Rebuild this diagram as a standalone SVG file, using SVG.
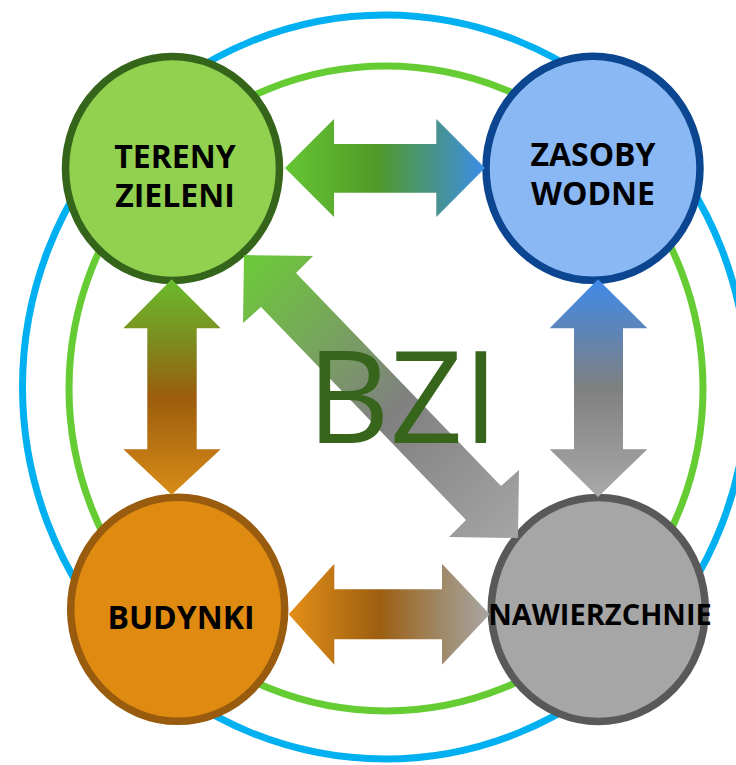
<svg xmlns="http://www.w3.org/2000/svg" width="736" height="765" viewBox="0 0 736 765">
<defs>
<style>
.lbl{font-family:"Open Sans","Liberation Sans",sans-serif;font-weight:bold;font-size:32px;fill:#000;text-anchor:middle}
.ring{fill:none;stroke-width:7}
.node{stroke-width:7.5}
</style>
<linearGradient id="gTop" gradientUnits="userSpaceOnUse" x1="285" y1="0" x2="485" y2="0">
<stop offset="0" stop-color="#66c634"/><stop offset="0.45" stop-color="#519a27"/><stop offset="0.75" stop-color="#47938c"/><stop offset="1" stop-color="#3b8eea"/>
</linearGradient>
<linearGradient id="gBot" gradientUnits="userSpaceOnUse" x1="289" y1="0" x2="490" y2="0">
<stop offset="0" stop-color="#e38f18"/><stop offset="0.45" stop-color="#9c5e10"/><stop offset="0.75" stop-color="#9f8866"/><stop offset="1" stop-color="#a9a6a3"/>
</linearGradient>
<linearGradient id="gLeft" gradientUnits="userSpaceOnUse" x1="0" y1="279" x2="0" y2="495">
<stop offset="0" stop-color="#69bc2c"/><stop offset="0.3" stop-color="#7e8a1e"/><stop offset="0.55" stop-color="#9c5c0c"/><stop offset="1" stop-color="#d88c18"/>
</linearGradient>
<linearGradient id="gRight" gradientUnits="userSpaceOnUse" x1="0" y1="279" x2="0" y2="497">
<stop offset="0" stop-color="#3f8aea"/><stop offset="0.5" stop-color="#7f8080"/><stop offset="1" stop-color="#a9a9a9"/>
</linearGradient>
<linearGradient id="gDiag" gradientUnits="userSpaceOnUse" x1="244" y1="255" x2="518" y2="538">
<stop offset="0" stop-color="#6ccb38"/><stop offset="0.3" stop-color="#77a35e"/><stop offset="0.55" stop-color="#808080"/><stop offset="1" stop-color="#a5a5a5"/>
</linearGradient>
</defs>
<rect width="736" height="765" fill="#fff"/>
<g id="rings">
<ellipse class="ring" cx="385" cy="387" rx="362.5" ry="372" stroke="#00b0f0"/>
<ellipse class="ring" cx="386" cy="388.5" rx="317" ry="322.5" stroke="#66cc33"/>
</g>
<g id="node-tereny">
<ellipse class="node" cx="172.5" cy="168.5" rx="107" ry="112" fill="#92d050" stroke="#34651a"/>
<text class="lbl" x="175" y="168">TERENY</text>
<text class="lbl" x="175" y="207">ZIELENI</text>
</g>
<g id="node-zasoby">
<ellipse class="node" cx="593" cy="168.3" rx="107" ry="112" fill="#8ab8f4" stroke="#0c4590"/>
<text class="lbl" x="593" y="165.5">ZASOBY</text>
<text class="lbl" x="593" y="204.5">WODNE</text>
</g>
<g id="node-budynki">
<ellipse class="node" cx="177.7" cy="609.3" rx="107" ry="112" fill="#df8b12" stroke="#995b0e"/>
<text class="lbl" x="181" y="628.5">BUDYNKI</text>
</g>
<g id="node-nawierzchnie">
<ellipse class="node" cx="598.3" cy="609.5" rx="107" ry="112" fill="#a6a6a6" stroke="#595959"/>
</g>
<g id="connectors">
<polygon fill="url(#gTop)" points="285,168 334,119 334,144 436.3,144 436.3,119 485,168 436.3,217 436.3,192.7 334,192.7 334,217"/>
<polygon fill="url(#gBot)" points="288.7,614.2 334.3,563.7 334.3,589.3 442,589.3 442,563.7 489.7,614.2 442,664.7 442,639.3 334.3,639.3 334.3,664.7"/>
<polygon fill="url(#gLeft)" points="171.7,279.3 220.7,328.3 196.7,328.3 196.7,449.3 220.7,449.3 171.7,494.7 123.3,449.3 147.3,449.3 147.3,328.3 123.3,328.3"/>
<polygon fill="url(#gRight)" points="598,279.3 647.3,328.3 623,328.3 623,449.3 647.3,449.3 598,497 549.7,449.3 574,449.3 574,328.3 549.7,328.3"/>
<polygon fill="url(#gDiag)" points="244,255 313,256 296,273 501,486 519,470 518,538 449,537 466,520 261,307 243,323"/>
</g>
<g id="title">
<text x="307" y="443" font-family="'Open Sans','Liberation Sans',sans-serif" font-size="128" fill="#37651b">BZI</text>
</g>
<g id="label-nawierzchnie">
<text class="lbl" x="600" y="625.3" style="font-size:29px">NAWIERZCHNIE</text>
</g>
</svg>
